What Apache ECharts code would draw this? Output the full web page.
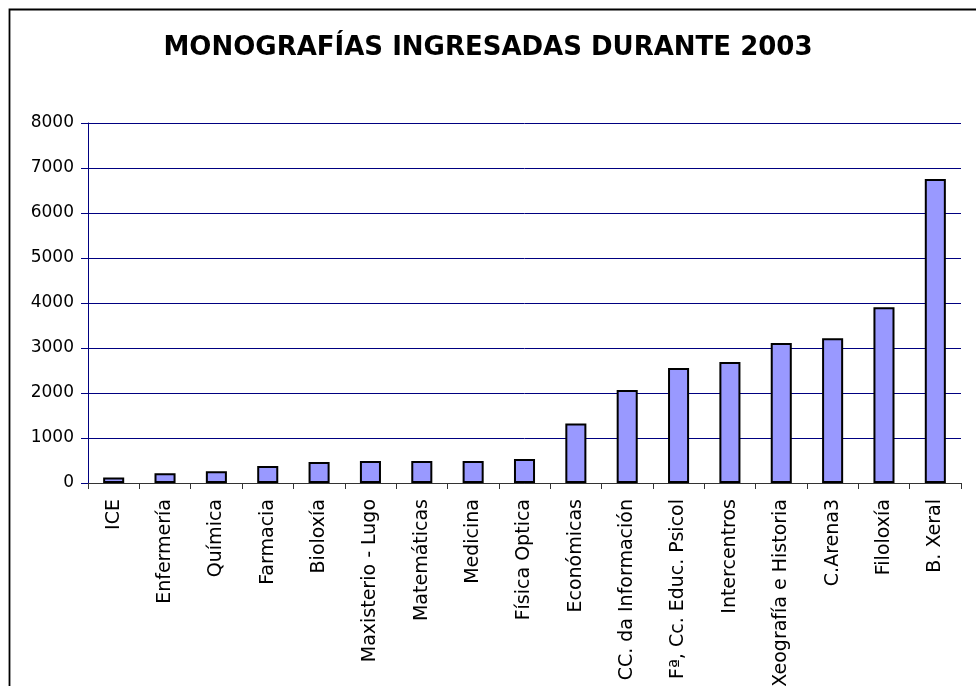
<!DOCTYPE html>
<html>
<head>
<meta charset="utf-8">
<script src="https://cdn.jsdelivr.net/npm/echarts@6/dist/echarts.min.js"></script>
<style>
html,body{margin:0;padding:0;background:#fff;}
#chart{width:976px;height:686px;}
</style>
</head>
<body>
<div id="chart"></div>
<script>
const titleText = 'MONOGRAFÍAS INGRESADAS DURANTE 2003';
const categories = ['ICE','Enfermería','Química','Farmacia','Bioloxía','Maxisterio - Lugo','Matemáticas','Medicina','Física Optica','Económicas','CC. da Información','Fª, Cc. Educ. Psicol','Intercentros','Xeografía e Historia','C.Arena3','Filoloxía','B. Xeral'];
const values = [125, 215, 260, 378, 467, 489, 489, 489, 533, 1320, 2065, 2555, 2690, 3110, 3215, 3905, 6755];
const yMin = 0, yMax = 8000, yStep = 1000;

const chart = echarts.init(document.getElementById('chart'), null, {renderer: 'canvas'});
chart.setOption({
  backgroundColor: '#ffffff',
  animation: false,
  title: {
    text: titleText,
    left: 'center',
    top: 30,
    textStyle: {fontFamily: 'DejaVu Sans', fontWeight: 'bold', fontSize: 26, color: '#000'}
  },
  graphic: [{
    type: 'rect',
    shape: {x: 9.5, y: 9.5, width: 1200, height: 1200},
    style: {fill: 'none', stroke: '#000', lineWidth: 1.8},
    silent: true
  }],
  grid: {left: 88, right: 15, top: 123, bottom: 203, containLabel: false, outerBoundsMode: 'none'},
  xAxis: {
    type: 'category',
    data: categories,
    boundaryGap: true,
    axisLine: {show: true, lineStyle: {color: '#333', width: 1}},
    axisTick: {show: true, length: 6, inside: false, lineStyle: {color: '#333'}},
    axisLabel: {rotate: 90, margin: 16, fontFamily: 'DejaVu Sans', fontSize: 19, color: '#000', interval: 0},
    splitLine: {show: false}
  },
  yAxis: {
    type: 'value',
    min: yMin, max: yMax, interval: yStep,
    axisLine: {show: true, lineStyle: {color: '#000080', width: 1}},
    axisTick: {show: true, length: 7, lineStyle: {color: '#000080'}},
    axisLabel: {margin: 14, fontFamily: 'DejaVu Sans', fontSize: 17, color: '#000', formatter: function (v) { return String(v); }},
    splitLine: {show: true, lineStyle: {color: '#000080', width: 1}}
  },
  series: [{
    type: 'bar',
    data: values,
    barWidth: '41%',
    itemStyle: {color: '#9999FF', borderColor: '#000', borderWidth: 2}
  }]
});
</script>
</body>
</html>
